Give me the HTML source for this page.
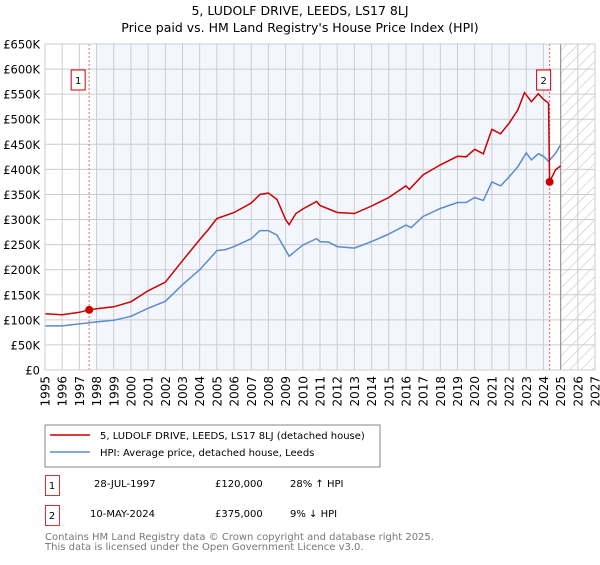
<!DOCTYPE html>
<html><head><meta charset="utf-8"><style>
body{margin:0;background:#fff;font-family:"Liberation Sans","DejaVu Sans",sans-serif;}
svg text{font-family:"DejaVu Sans","Liberation Sans",sans-serif;}
</style></head><body>
<svg id="c" width="600" height="560" xmlns="http://www.w3.org/2000/svg">
<defs><pattern id="h" width="8" height="8" patternUnits="userSpaceOnUse" patternTransform="rotate(45)"><line x1="0" y1="0" x2="0" y2="8" stroke="#bbb" stroke-width="1"/></pattern></defs>
<text x="300" y="15" text-anchor="middle" font-size="12.5">5, LUDOLF DRIVE, LEEDS, LS17 8LJ</text>
<text x="300" y="32" text-anchor="middle" font-size="12.5">Price paid vs. HM Land Registry's House Price Index (HPI)</text>
<g id="plot"></g>
<rect x="45" y="425" width="335" height="42" fill="#fff" stroke="#666" stroke-width="0.8"/>
<line x1="50" y1="435" x2="90" y2="435" stroke="#cc0000" stroke-width="1.5"/>
<text x="100" y="439" font-size="10">5, LUDOLF DRIVE, LEEDS, LS17 8LJ (detached house)</text>
<line x1="50" y1="452" x2="90" y2="452" stroke="#5b8bd0" stroke-width="1.5"/>
<text x="100" y="456" font-size="10">HPI: Average price, detached house, Leeds</text>
<rect x="45.5" y="475.5" width="14" height="20" fill="#fff" stroke="#cc0000" stroke-width="0.8"/>
<text x="52" y="489" font-size="10" text-anchor="middle">1</text>
<text x="94" y="487" font-size="10">28-JUL-1997</text>
<text x="215" y="487" font-size="10">£120,000</text>
<text x="290" y="487" font-size="10">28% ↑ HPI</text>
<rect x="45.5" y="505.5" width="14" height="20" fill="#fff" stroke="#cc0000" stroke-width="0.8"/>
<text x="52" y="519" font-size="10" text-anchor="middle">2</text>
<text x="90" y="517" font-size="10">10-MAY-2024</text>
<text x="215" y="517" font-size="10">£375,000</text>
<text x="290" y="517" font-size="10">9% ↓ HPI</text>
<text x="45" y="540" font-size="10" fill="#777">Contains HM Land Registry data © Crown copyright and database right 2025.</text>
<text x="45" y="550" font-size="10" fill="#777">This data is licensed under the Open Government Licence v3.0.</text>
</svg>
<script>
const hpiYears=[1995,1996,1997,1997.5,1998,1999,2000,2001,2002,2003,2004,2004.5,2005,2005.5,2006,2007,2007.5,2008,2008.5,2009,2009.2,2009.5,2010,2010.8,2011,2011.5,2012,2013,2014,2015,2016,2016.3,2017,2018,2019,2019.5,2020,2020.5,2021,2021.5,2022,2022.5,2023,2023.3,2023.7,2024,2024.3,2024.7,2025];
const hpiValues=[88,88,92,94,96,99,107,123,137,170,200,219,238,240,246,262,278,278,269,239,227,235,249,262,256,255,246,243,256,271,289,284,306,322,334,334,344,338,375,367,385,405,433,419,431,426,416,432,449];
const priceYears=[1995,1996,1997,1997.57,1998,1999,2000,2001,2002,2003,2004,2004.5,2005,2006,2007,2007.5,2008,2008.5,2009,2009.2,2009.6,2010,2010.8,2011,2012,2013,2014,2015,2016,2016.2,2017,2018,2019,2019.5,2020,2020.5,2021,2021.5,2022,2022.5,2022.9,2023.3,2023.7,2024,2024.3,2024.36,2024.7,2025];
const priceValues=[112,110,115,120,122,126,136,158,175,218,260,280,302,314,333,350,353,340,300,290,312,321,336,328,314,312,327,344,367,360,389,409,426,425,440,431,480,471,492,518,553,535,551,540,532,375,399,407];
const saleYears=[1997.57,2024.36];
const saleValues=[120,375];
const yTicks=[0,50,100,150,200,250,300,350,400,450,500,550,600,650];
const yLabels=["£0","£50K","£100K","£150K","£200K","£250K","£300K","£350K","£400K","£450K","£500K","£550K","£600K","£650K"];
const xTicks=[1995,1996,1997,1998,1999,2000,2001,2002,2003,2004,2005,2006,2007,2008,2009,2010,2011,2012,2013,2014,2015,2016,2017,2018,2019,2020,2021,2022,2023,2024,2025,2026,2027];
const X0=45,X1=595,Y0=370,Y1=44;
const xs=t=>X0+(t-1995)/(2027-1995)*(X1-X0);
const ys=v=>Y0-v/650*(Y0-Y1);
const NS="http://www.w3.org/2000/svg";
const g=document.getElementById('plot');
function mk(tag,a){const e=document.createElementNS(NS,tag);for(const k in a)e.setAttribute(k,a[k]);g.appendChild(e);return e;}
let r=mk('rect',{x:xs(1998),y:Y1,width:xs(saleYears[1])-xs(1998),height:Y0-Y1,fill:'#eef3fc',opacity:0.7});


r=mk('rect',{x:xs(2025),y:Y1,width:X1-xs(2025),height:Y0-Y1,fill:'url(#h)'});


xTicks.forEach(t=>{const l=mk('line',{x1:xs(t),x2:xs(t),y1:Y1,y2:Y0,stroke:'#ccc','stroke-width':1});


const tx=mk('text',{x:0,y:0,'font-size':12,'text-anchor':'end',transform:`translate(${xs(t)+4.5},${Y0+6}) rotate(-90)`});tx.textContent=t;

});
yTicks.forEach((v,i)=>{const l=mk('line',{x1:X0,x2:X1,y1:ys(v),y2:ys(v),stroke:'#ccc','stroke-width':1});


const tx=mk('text',{x:X0-5,y:ys(v)+4.5,'font-size':11.5,'text-anchor':'end'});tx.textContent=yLabels[i];

});
let b=mk('line',{x1:xs(2025),x2:xs(2025),y1:Y1,y2:Y0,stroke:'#999','stroke-width':1.2});


saleYears.forEach((t,i)=>{const l=mk('line',{x1:xs(t),x2:xs(t),y1:Y1,y2:Y0,stroke:'#f06060','stroke-dasharray':'2,2','stroke-width':1});

});
const pts=(a,b)=>a.map((t,i)=>xs(t).toFixed(1)+','+ys(b[i]).toFixed(1)).join(' ');
let p=mk('polyline',{points:pts(hpiYears,hpiValues),fill:'none',stroke:'#5b8bd0','stroke-width':1.5});


p=mk('polyline',{points:pts(priceYears,priceValues),fill:'none',stroke:'#cc0000','stroke-width':1.5});


saleYears.forEach((t,i)=>{const c=mk('circle',{cx:xs(t),cy:ys(saleValues[i]),r:4,fill:'#cc0000'});


const bx=xs(t)-(i==0?11:6);
const rr=mk('rect',{x:bx-7,y:70,width:14,height:20,fill:'#fff',stroke:'#cc0000','stroke-width':1});


const tx=mk('text',{x:bx,y:84,'font-size':10,'text-anchor':'middle'});tx.textContent=i+1;

});
const fr=mk('rect',{x:X0,y:Y1,width:X1-X0,height:Y0-Y1,fill:'none',stroke:'#ccc'});


</script>
</body></html>
